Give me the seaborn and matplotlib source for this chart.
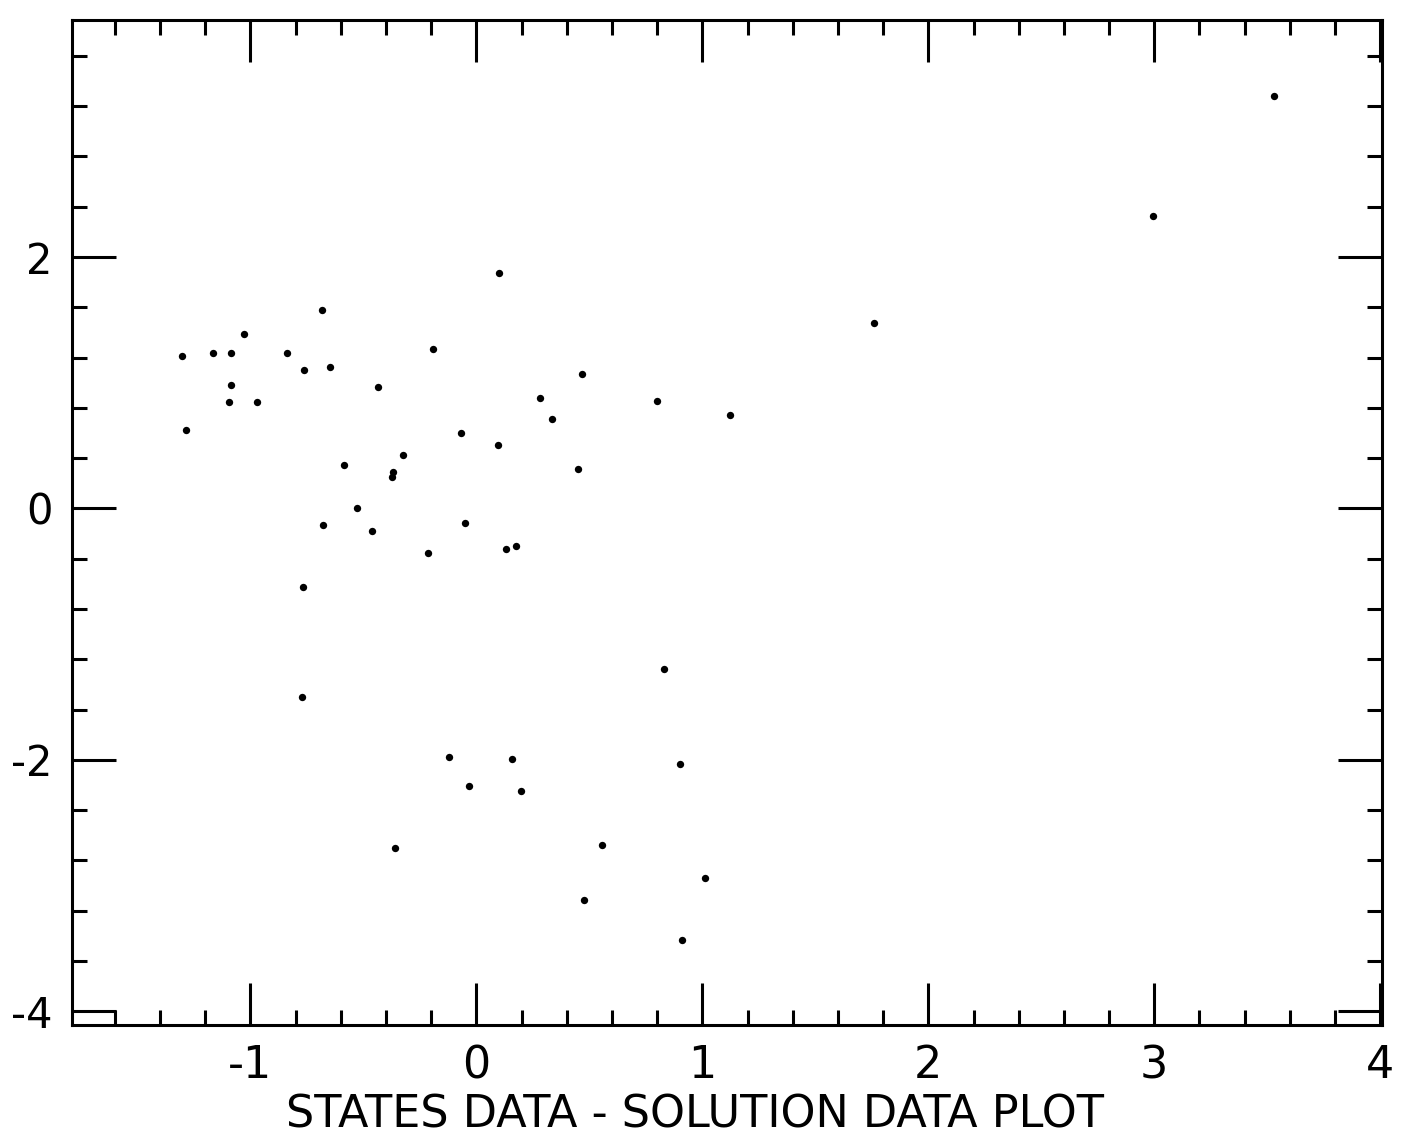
import matplotlib
matplotlib.use("Agg")
import matplotlib.pyplot as plt
import pandas as pd
import seaborn as sns
from matplotlib.ticker import MultipleLocator

# points
x_values = [3.529, 2.996, 0.102, 1.761, -0.684, -1.301, -1.168, -1.087, -1.029,
            -0.840, -0.193, -0.764, -0.649, -1.087, -0.436, 0.468, -1.285, -1.097,
            -0.969, 0.282, 0.333, 0.800, 1.122, -0.067, 0.095, -0.588, -0.368,
            -0.373, -0.324, 0.449, -0.528, -0.678, -0.461, -0.051, -0.216, 0.131,
            0.175, -0.767, -0.772, 0.830, -0.123, 0.157, 0.902, -0.035, 0.196,
            -0.362, 0.554, 1.010, 0.477, 0.911]
y_values = [3.282, 2.329, 1.871, 1.473, 1.579, 1.216, 1.239, 1.239, 1.388,
            1.239, 1.266, 1.102, 1.126, 0.979, 0.969, 1.068, 0.625, 0.847,
            0.847, 0.881, 0.712, 0.858, 0.744, 0.601, 0.508, 0.348, 0.290,
            0.248, 0.423, 0.314, 0.006, -0.134, -0.181, -0.115, -0.352, -0.322,
            -0.301, -0.627, -1.500, -1.277, -1.979, -1.993, -2.035, -2.205, -2.247,
            -2.698, -2.677, -2.942, -3.112, -3.430]

x_ticks = [-1, 0, 1, 2, 3, 4]
y_ticks = [-4, -2, 0, 2]
x_label = "STATES DATA - SOLUTION DATA PLOT"

sns.set_style("ticks")
plt.rcParams["font.family"] = ["DejaVu Sans"]
plt.rcParams["axes.unicode_minus"] = False
plt.rcParams["text.color"] = "black"

W, H = 1401, 1138
fig = plt.figure(figsize=(W / 100, H / 100), dpi=100)
ax = fig.add_axes([72 / W, 1 - 1025 / H, (1382 - 72) / W, (1025 - 20) / H])

df = pd.DataFrame({"x": x_values, "y": y_values})
sns.scatterplot(data=df, x="x", y="y", ax=ax, color="black", s=28,
                linewidth=0, legend=False)

ax.set_xlim(-1.79, 4.008)
ax.set_ylim(-4.11, 3.886)

ax.set_xticks(x_ticks, labels=[str(v) for v in x_ticks])
ax.set_yticks(y_ticks, labels=[str(v) for v in y_ticks])
ax.xaxis.set_minor_locator(MultipleLocator(0.2))
ax.yaxis.set_minor_locator(MultipleLocator(0.4))

ax.tick_params(which="both", direction="in", top=True, right=True,
               width=2.2, color="black", labelcolor="black")
ax.tick_params(axis="x", which="major", length=30, pad=14, labelsize=32)
ax.tick_params(axis="y", which="major", length=32, pad=14, labelsize=30)
ax.tick_params(which="minor", length=11)

for sp in ax.spines.values():
    sp.set_linewidth(2.2)
    sp.set_color("black")

ax.set_xlabel("")
ax.set_ylabel("")

fig.text(695 / W, 1 - 1127 / H, x_label, fontsize=32, ha="center",
         va="baseline", color="black")

fig.savefig("out.png", dpi=100)
